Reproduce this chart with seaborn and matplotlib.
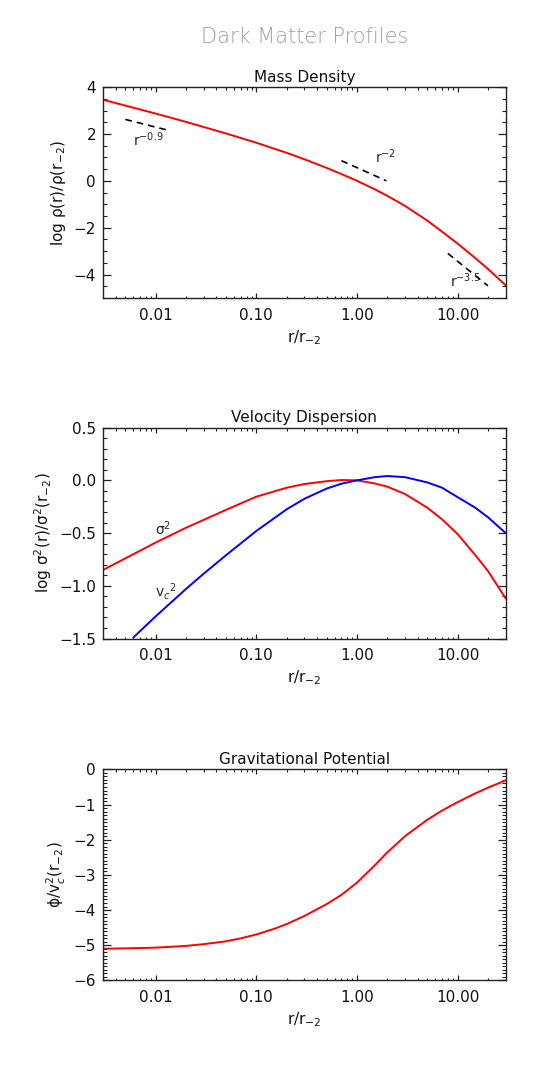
import numpy as np
import matplotlib
matplotlib.use('Agg')
import matplotlib.pyplot as plt
from matplotlib.ticker import FixedLocator, MultipleLocator, LogLocator, FormatStrFormatter, NullFormatter
import seaborn as sns

# values (x is r / r_-2)
r_rho = [0.003, 0.005, 0.01, 0.02, 0.05, 0.1, 0.2, 0.3, 0.5, 0.7, 1.0,
         1.5, 2.0, 3.0, 5.0, 7.0, 10.0, 15.0, 20.0, 30.0]
log_rho = [3.46, 3.21, 2.87, 2.515, 2.02, 1.625, 1.195, 0.92, 0.55, 0.29, 0.0,
           -0.36, -0.64, -1.07, -1.70, -2.17, -2.68, -3.30, -3.76, -4.46]

r_sig = [0.003, 0.005, 0.01, 0.02, 0.05, 0.1, 0.2, 0.3, 0.5, 0.7, 1.0,
         1.5, 2.0, 3.0, 5.0, 7.0, 10.0, 15.0, 20.0, 30.0]
log_sig2 = [-0.85, -0.74, -0.59, -0.45, -0.28, -0.155, -0.07, -0.035, -0.008, 0.003, 0.0,
            -0.03, -0.06, -0.13, -0.26, -0.37, -0.51, -0.71, -0.86, -1.12]

r_vc = [0.006, 0.01, 0.02, 0.03, 0.05, 0.1, 0.2, 0.3, 0.5, 0.7, 1.0,
        1.5, 2.0, 3.0, 5.0, 7.0, 10.0, 15.0, 20.0, 30.0]
log_vc2 = [-1.49, -1.29, -1.03, -0.885, -0.71, -0.48, -0.275, -0.175, -0.078, -0.032, 0.0,
           0.03, 0.041, 0.03, -0.02, -0.07, -0.16, -0.26, -0.35, -0.50]

r_phi = [0.003, 0.005, 0.01, 0.02, 0.03, 0.05, 0.07, 0.1, 0.15, 0.2, 0.3, 0.5, 0.7, 1.0,
         1.5, 2.0, 3.0, 5.0, 7.0, 10.0, 15.0, 20.0, 30.0]
phi = [-5.10, -5.09, -5.07, -5.02, -4.97, -4.89, -4.805, -4.695, -4.535, -4.40, -4.17, -3.83,
       -3.57, -3.22, -2.73, -2.36, -1.90, -1.43, -1.17, -0.93, -0.68, -0.52, -0.31]

# power-law guide segments in the density panel
guide_09_x = [0.005, 0.0135]
guide_09_y = [2.62, 2.15]
guide_2_x = [0.70, 1.96]
guide_2_y = [0.86, 0.0]
guide_35_x = [8.0, 20.0]
guide_35_y = [-3.10, -4.48]

xticks = [0.01, 0.1, 1.0, 10.0]

sns.set_theme(style='ticks')
plt.rcParams['font.family'] = ['DejaVu Sans']
plt.rcParams['axes.linewidth'] = 1.0
plt.rcParams['axes.edgecolor'] = '#222222'

fig = plt.figure(figsize=(5.6, 10.9), dpi=100)
L, W, H = 0.184, 0.719, 0.1935
ax1 = fig.add_axes([L, 0.7266, W, H])
ax2 = fig.add_axes([L, 0.4142, W, H])
ax3 = fig.add_axes([L, 0.1006, W, H])


def style_axis(ax, ylim, ymajor, yminor, title, ylabel):
    ax.set_xscale('log')
    ax.set_xlim(0.003, 30)
    ax.set_ylim(*ylim)
    ax.xaxis.set_major_locator(FixedLocator(xticks))
    ax.xaxis.set_major_formatter(FormatStrFormatter('%.2f'))
    ax.xaxis.set_minor_locator(LogLocator(base=10, subs=np.arange(2, 10), numticks=20))
    ax.xaxis.set_minor_formatter(NullFormatter())
    ax.yaxis.set_major_locator(MultipleLocator(ymajor))
    ax.yaxis.set_minor_locator(MultipleLocator(yminor))
    ax.tick_params(which='both', direction='in', top=True, right=True,
                   color='#222222', labelsize=11, labelcolor='#111111')
    ax.tick_params(axis='x', which='major', length=3.5, width=0.9, pad=7)
    ax.tick_params(axis='x', which='minor', length=1.8, width=0.8)
    ax.tick_params(axis='y', which='major', length=5.5, width=0.9, pad=5)
    ax.tick_params(axis='y', which='minor', length=2.8, width=0.8)
    ax.set_title(title, fontsize=11, pad=4, color='#111111')
    ax.set_xlabel('r/r$_{-2}$', fontsize=11, color='#111111')
    ax.set_ylabel(ylabel, fontsize=11, color='#111111')


# Mass density
sns.lineplot(x=r_rho, y=log_rho, ax=ax1, color='#ff0000', linewidth=1.4)
for gx, gy in [(guide_09_x, guide_09_y), (guide_2_x, guide_2_y), (guide_35_x, guide_35_y)]:
    ax1.plot(gx, gy, color='black', linewidth=1.2, linestyle=(0, (4, 3)))
ax1.text(0.006, 1.5, 'r$^{-0.9}$', fontsize=10)
ax1.text(1.52, 0.78, 'r$^{-2}$', fontsize=10)
ax1.text(8.3, -4.55, 'r$^{-3.5}$', fontsize=10)
style_axis(ax1, (-5, 4), 2, 0.5, 'Mass Density', 'log ρ(r)/ρ(r$_{-2}$)')

# Velocity dispersion
sns.lineplot(x=r_sig, y=log_sig2, ax=ax2, color='#ff0000', linewidth=1.4)
sns.lineplot(x=r_vc, y=log_vc2, ax=ax2, color='#0000ff', linewidth=1.4)
ax2.text(0.0098, -0.52, 'σ$^2$', fontsize=10)
ax2.text(0.0098, -1.1, 'v$_c$$^2$', fontsize=10)
style_axis(ax2, (-1.5, 0.5), 0.5, 0.1, 'Velocity Dispersion', 'log σ$^2$(r)/σ$^2$(r$_{-2}$)')

# Gravitational potential
sns.lineplot(x=r_phi, y=phi, ax=ax3, color='#ff0000', linewidth=1.4)
style_axis(ax3, (-6, 0), 1, 0.1, 'Gravitational Potential', 'ϕ/v$_c^2$(r$_{-2}$)')

fig.text(L + W / 2, 0.966, 'Dark Matter Profiles', ha='center', va='center',
         fontsize=15, color='#a0a0a0', fontweight='light')

fig.savefig('out.png', dpi=100)
